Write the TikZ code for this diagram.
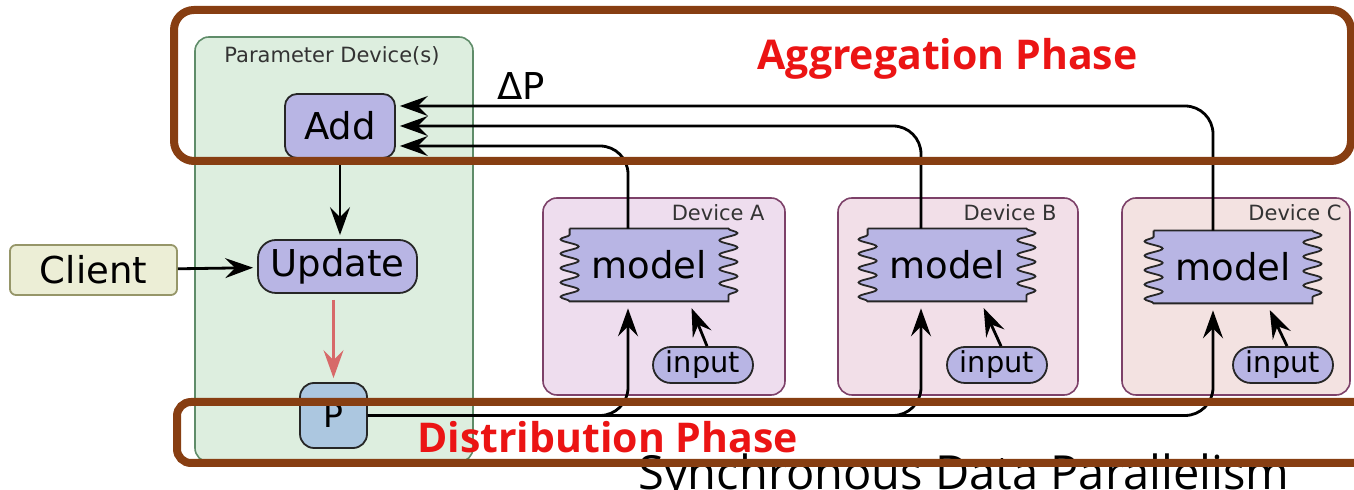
\documentclass[tikz,border=0pt]{standalone}
\usepackage{fontspec}
\setmainfont{DejaVu Sans}
\newfontfamily\fasefont{Open Sans}
\usepackage{tikz}
\usetikzlibrary{positioning,arrows.meta,decorations.pathmorphing}
\definecolor{verdeclaro}{RGB}{221,238,223}
\definecolor{verdeborde}{RGB}{95,140,105}
\definecolor{lila}{RGB}{184,181,228}
\definecolor{azulp}{RGB}{172,199,224}
\definecolor{crema}{RGB}{236,238,214}
\definecolor{oliva}{RGB}{150,150,105}
\definecolor{rosaA}{RGB}{238,221,238}
\definecolor{rosaB}{RGB}{242,223,232}
\definecolor{rosaC}{RGB}{243,226,225}
\definecolor{ciruela}{RGB}{125,65,105}
\definecolor{marron}{RGB}{135,62,18}
\definecolor{rojofase}{RGB}{235,20,20}
\definecolor{rojoflecha}{RGB}{215,105,105}
\tikzset{caja/.style={draw=black!85, fill=lila, line width=0.9pt, rounded corners=6pt, inner sep=0pt, font=\fontsize{18.5}{20}\selectfont}}
\tikzset{entrada/.style={caja, minimum width=50pt, minimum height=18pt, rounded corners=9pt, font=\fontsize{14.4}{16}\selectfont}}
\tikzset{modelo/.style={minimum width=79pt, minimum height=36pt, inner sep=0pt}}
\tikzset{contenedor/.style={draw=ciruela, line width=0.8pt, rounded corners=7pt, inner sep=0pt}}
\tikzset{rotulo/.style={font=\fontsize{10.5}{12}\selectfont, text=black!80, inner sep=0pt}}
\tikzset{flecha/.style={line width=1.4pt, -{Stealth[length=14pt,width=10pt,inset=5pt]}, shorten >=2pt}}
\tikzset{fase/.style={draw=marron, line width=4pt}}
\tikzset{fasetexto/.style={font=\fasefont\bfseries\fontsize{20.5}{22}\selectfont, text=rojofase, inner sep=0pt}}
% caja de modelo con lados ondulados
\newcommand{\ondas}[2]{%
  \filldraw[fill=lila, draw=black!85, line width=0.9pt,
    decoration={snake, amplitude=4.5pt, segment length=7.2pt}]
    (#1.north west) -- (#1.north east) decorate{-- (#1.south east)}
    -- (#1.south west) decorate{-- (#1.north west)} -- cycle;
  \node[font=\fontsize{18.5}{20}\selectfont, inner sep=0pt] (#1t) at (#1) {#2};}

\begin{document}
\begin{tikzpicture}[x=0.5pt, y=-0.5pt]
  \useasboundingbox (0,0) rectangle (1354,490);
  \clip (0,0) rectangle (1354,490);

  % parameter device
  \node[contenedor, fill=verdeclaro, draw=verdeborde, minimum width=139pt, minimum height=212.5pt] (param) at (334,249.5) {};
  \node[rotulo, anchor=base] (paramt) at (332,63) {Parameter Device(s)};

  % devices
  \node[contenedor, fill=rosaA, minimum width=121pt, minimum height=98.5pt] (devA) at (664,296.5) {};
  \node[contenedor, fill=rosaB, minimum width=120pt, minimum height=98.5pt] (devB) at (958,296.5) {};
  \node[contenedor, fill=rosaC, minimum width=114pt, minimum height=98.5pt] (devC) at (1236,296.5) {};
  \node[rotulo, anchor=base east] (devAt) at (765,221) {Device A};
  \node[rotulo, anchor=base east] (devBt) at (1057,221) {Device B};
  \node[rotulo, anchor=base east] (devCt) at (1342,221) {Device C};

  \node[modelo] (mA) at (649,265) {};
  \ondas{mA}{model}
  \node[modelo] (mB) at (947,265) {};
  \ondas{mB}{model}
  \node[modelo] (mC) at (1233,267) {};
  \ondas{mC}{model}

  \node[entrada] (iA) at (703,365) {input};
  \node[entrada] (iB) at (997,365) {input};
  \node[entrada] (iC) at (1283,365) {input};

  \node[caja, minimum width=55pt, minimum height=32pt] (add) at (340,126) {Add};
  \node[caja, minimum width=79.5pt, minimum height=26.5pt, rounded corners=9pt] (upd) at (337.5,266.5) {Update};
  \node[caja, fill=crema, draw=oliva, minimum width=83.5pt, minimum height=25pt, rounded corners=3pt] (cli) at (93.5,270) {Client};
  \node[caja, fill=azulp, minimum width=33.5pt, minimum height=32.5pt, rounded corners=7pt, font=\fontsize{16.5}{18}\selectfont] (p) at (333.5,415.5) {P};

  \node[font=\fontsize{18.5}{20}\selectfont, inner sep=0pt] (dp) at (521,86) {ΔP};

  \draw[flecha] (add.south) -- (add.south |- upd.north);
  \draw[flecha, color=rojoflecha, shorten <=3pt] (p.north |- upd.south) -- (p.north);
  \draw[flecha] (cli) -- (upd);

  \draw[flecha, rounded corners=14pt] ([xshift=-10.5pt]mA.north) |- ([yshift=-10pt]add.east);
  \draw[flecha, rounded corners=14pt] ([xshift=-13pt]mB.north) |- (add.east);
  \draw[flecha, rounded corners=14pt] ([xshift=-10pt]mC.north) |- ([yshift=10pt]add.east);

  \draw[flecha, rounded corners=14pt] (p.east) -| ([xshift=-10.5pt,yshift=-1.5pt]mA.south);
  \draw[flecha, rounded corners=14pt] (p.east) -| ([xshift=-13pt,yshift=-1.5pt]mB.south);
  \draw[flecha, rounded corners=14pt] (p.east) -| ([xshift=-10pt,yshift=-1.5pt]mC.south);

  \draw[flecha] ([xshift=2pt]iA.north) -- ([xshift=20.5pt,yshift=-1.5pt]mA.south);
  \draw[flecha] ([xshift=2pt]iB.north) -- ([xshift=17.5pt,yshift=-1.5pt]mB.south);
  \draw[flecha] ([xshift=2pt]iC.north) -- ([xshift=17.5pt,yshift=-1.5pt]mC.south);

  % fases
  \node[fasetexto, anchor=base] (agg) at (947.5,70) {Aggregation Phase};
  \node[fasetexto, anchor=base] (dist) at (607.5,453) {Distribution Phase};
  \node[font=\fasefont\fontsize{23.5}{26}\selectfont, inner sep=0pt, anchor=base] (tit) at (964,490) {Synchronous Data Parallelism};
  \draw[fase, rounded corners=10pt] (174,10) rectangle (1351,161);
  \draw[fase, rounded corners=7pt] (177,402) rectangle (1370,463);
\end{tikzpicture}
\end{document}
